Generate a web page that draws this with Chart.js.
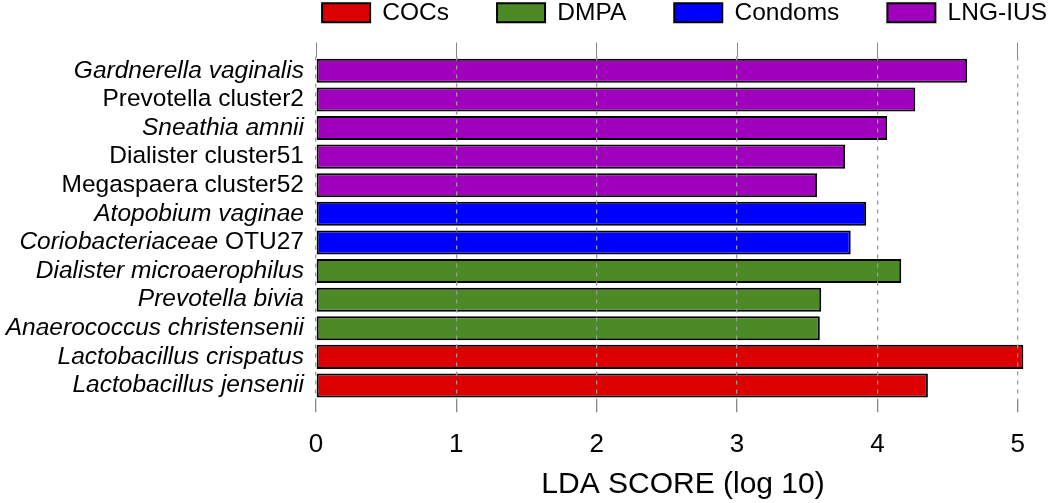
<!DOCTYPE html>
<html>
<head>
<meta charset="utf-8">
<script src="https://cdn.jsdelivr.net/npm/chart.js@4"></script>
<style>
  html, body { margin: 0; padding: 0; background: #fff; }
  canvas { display: block; }
</style>
</head>
<body>
<canvas id="ldaChart" width="1050" height="503"></canvas>
<script>
// taxa, top to bottom
const taxa = [
  'Gardnerella vaginalis',
  'Prevotella cluster2',
  'Sneathia amnii',
  'Dialister cluster51',
  'Megaspaera cluster52',
  'Atopobium vaginae',
  'Coriobacteriaceae OTU27',
  'Dialister microaerophilus',
  'Prevotella bivia',
  'Anaerococcus christensenii',
  'Lactobacillus crispatus',
  'Lactobacillus jensenii'
];
// part of each name set in italics ('' = none)
const italicPart = [
  'Gardnerella vaginalis',
  '',
  'Sneathia amnii',
  '',
  '',
  'Atopobium vaginae',
  'Coriobacteriaceae ',
  'Dialister microaerophilus',
  'Prevotella bivia',
  'Anaerococcus christensenii',
  'Lactobacillus crispatus',
  'Lactobacillus jensenii'
];
const ldaScores = [4.64, 4.27, 4.07, 3.77, 3.57, 3.92, 3.81, 4.17, 3.60, 3.59, 5.04, 4.36];
const taxonGroup = ['LNG-IUS', 'LNG-IUS', 'LNG-IUS', 'LNG-IUS', 'LNG-IUS', 'Condoms', 'Condoms',
  'DMPA', 'DMPA', 'DMPA', 'COCs', 'COCs'];
const groups = ['COCs', 'DMPA', 'Condoms', 'LNG-IUS'];
const groupColors = ['#DD0000', '#4C8A26', '#0000FF', '#A000BE'];
const scoreTicks = [0, 1, 2, 3, 4, 5];
const xMax = 5.23;

const FONT = "'Liberation Sans', Arial, sans-serif";
Chart.defaults.font.family = FONT;
Chart.defaults.color = '#000';

// draws the y labels so one name can mix italic and upright text
const taxonLabels = {
  id: 'taxonLabels',
  afterDraw(chart) {
    const { ctx, chartArea, scales: { y } } = chart;
    ctx.save();
    ctx.fillStyle = '#000';
    ctx.textBaseline = 'middle';
    ctx.textAlign = 'right';
    taxa.forEach((name, i) => {
      const yPos = y.getPixelForValue(i);
      const it = italicPart[i];
      const rest = name.slice(it.length);
      let x = chartArea.left - 12;
      if (rest) {
        ctx.font = '24.5px ' + FONT;
        ctx.fillText(rest, x, yPos);
        x -= ctx.measureText(rest).width;
      }
      if (it) {
        ctx.font = 'italic 24.5px ' + FONT;
        ctx.fillText(it, x, yPos);
      }
    });
    ctx.restore();
  }
};

const setTicks = (scale) => { scale.ticks = scoreTicks.map(v => ({ value: v })); };

new Chart(document.getElementById('ldaChart'), {
  type: 'bar',
  data: {
    labels: taxa,
    datasets: groups.map((g, k) => ({
      label: g,
      data: ldaScores.map((v, i) => taxonGroup[i] === g ? v : null),
      backgroundColor: groupColors[k],
      borderColor: '#000',
      borderWidth: 2,
      borderSkipped: false,
      barPercentage: 0.84,
      categoryPercentage: 1
    }))
  },
  options: {
    indexAxis: 'y',
    responsive: false,
    animation: false,
    layout: { padding: { top: -47.5, right: -45, left: 0, bottom: 0 } },
    datasets: { bar: { grouped: false, skipNull: true } },
    plugins: {
      tooltip: { enabled: false },
      legend: {
        position: 'top',
        align: 'end',
        labels: {
          boxWidth: 48,
          boxHeight: 19,
          padding: 48,
          color: '#000',
          font: { size: 24.5 }
        }
      }
    },
    scales: {
      x: {
        min: 0,
        max: xMax,
        afterBuildTicks: setTicks,
        border: { display: false, dash: [4, 5] },
        grid: {
          z: 1,
          color: '#999',
          lineWidth: 1.3,
          tickColor: '#888',
          tickBorderDash: [],
          tickLength: 12.5
        },
        ticks: { padding: 17, font: { size: 26 } },
        title: {
          display: true,
          text: 'LDA SCORE (log 10)',
          font: { size: 30 },
          padding: { top: -10.5, bottom: 0 }
        }
      },
      x2: {
        position: 'top',
        type: 'linear',
        min: 0,
        max: xMax,
        afterBuildTicks: setTicks,
        afterFit: (scale) => { scale.height = 21.5; },
        border: { display: false },
        grid: { drawOnChartArea: false, tickColor: '#888', tickLength: 14 },
        ticks: { display: false }
      },
      y: {
        border: { display: false },
        grid: { display: false },
        ticks: { display: false },
        afterFit: (scale) => { scale.width = 316; }
      }
    }
  },
  plugins: [taxonLabels]
});
</script>
</body>
</html>
